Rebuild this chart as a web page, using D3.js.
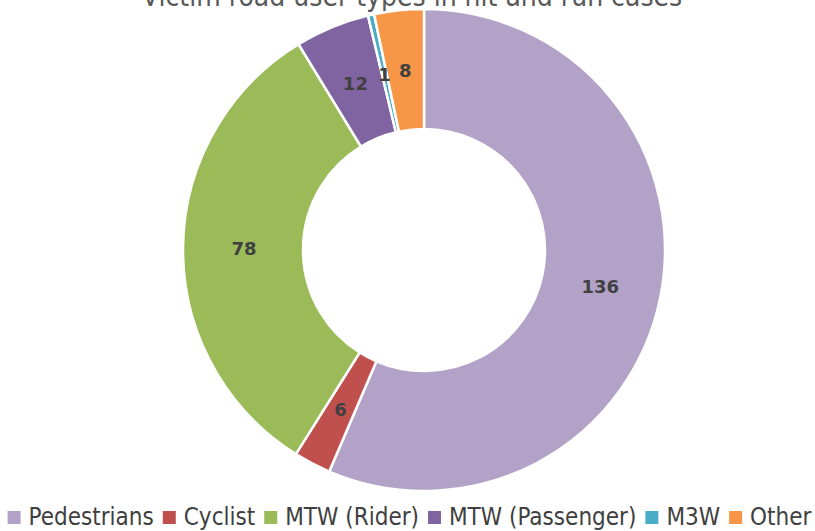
<!DOCTYPE html>
<html>
<head>
<meta charset="utf-8">
<script src="https://cdn.jsdelivr.net/npm/d3@7"></script>
<style>
  body { margin: 0; background: #fff; }
  text { font-family: "DejaVu Sans Condensed", "DejaVu Sans", sans-serif; font-stretch: condensed; }
  text.label { font-family: "DejaVu Sans", sans-serif; font-stretch: normal; }
</style>
</head>
<body>
<script>
var categories = ["Pedestrians", "Cyclist", "MTW (Rider)", "MTW (Passenger)", "M3W", "Other"];
var values = [136, 6, 78, 12, 1, 8];
var colors = ["#b3a2c7", "#c0504d", "#9bbb59", "#8064a2", "#4bacc6", "#f79646"];
var title = "Victim road user types in hit and run cases";

var width = 815, height = 531;
var cx = 424, cy = 250, outerR = 241, innerR = 121;

var svg = d3.select("body").append("svg")
    .attr("width", width).attr("height", height);

svg.append("text")
    .attr("x", 412).attr("y", 6)
    .attr("text-anchor", "middle")
    .style("font-size", "28px")
    .style("fill", "#595959")
    .text(title);

var data = categories.map(function(c, i){ return {name: c, value: values[i], color: colors[i]}; });

var pie = d3.pie().sort(null).value(function(d){ return d.value; });
var arc = d3.arc().innerRadius(innerR).outerRadius(outerR);
var labelArc = d3.arc().innerRadius(180).outerRadius(180);
var arcs = pie(data);

var g = svg.append("g").attr("transform", "translate(" + cx + "," + cy + ")");

g.selectAll("path").data(arcs).enter().append("path")
    .attr("d", arc)
    .attr("fill", function(d){ return d.data.color; })
    .attr("stroke", "#fff")
    .attr("stroke-width", 2.5);

// labels after all slices so borders don't cover them
g.selectAll("text.label").data(arcs).enter().append("text")
    .attr("class", "label")
    .attr("transform", function(d){ return "translate(" + labelArc.centroid(d) + ")"; })
    .attr("text-anchor", "middle")
    .attr("dy", "0.36em")
    .style("font-size", "18px")
    .style("font-weight", "bold")
    .style("fill", "#404040")
    .text(function(d){ return d.data.value; });

// legend
var legend = svg.append("g");
var items = legend.selectAll("g").data(data).enter().append("g");
items.append("rect")
    .attr("width", 13).attr("height", 13)
    .attr("y", -14)
    .attr("fill", function(d){ return d.color; });
items.append("text")
    .attr("x", 21)
    .style("font-size", "24px")
    .style("fill", "#404040")
    .text(function(d){ return d.name; });

var xPos = 0;
items.each(function(){
    var w = d3.select(this).select("text").node().getComputedTextLength();
    d3.select(this).attr("transform", "translate(" + xPos + ",0)");
    xPos += 21 + w + 9;
});
xPos -= 9;
legend.attr("transform", "translate(" + ((width - xPos) / 2 + 2) + ",525)");
</script>
</body>
</html>
